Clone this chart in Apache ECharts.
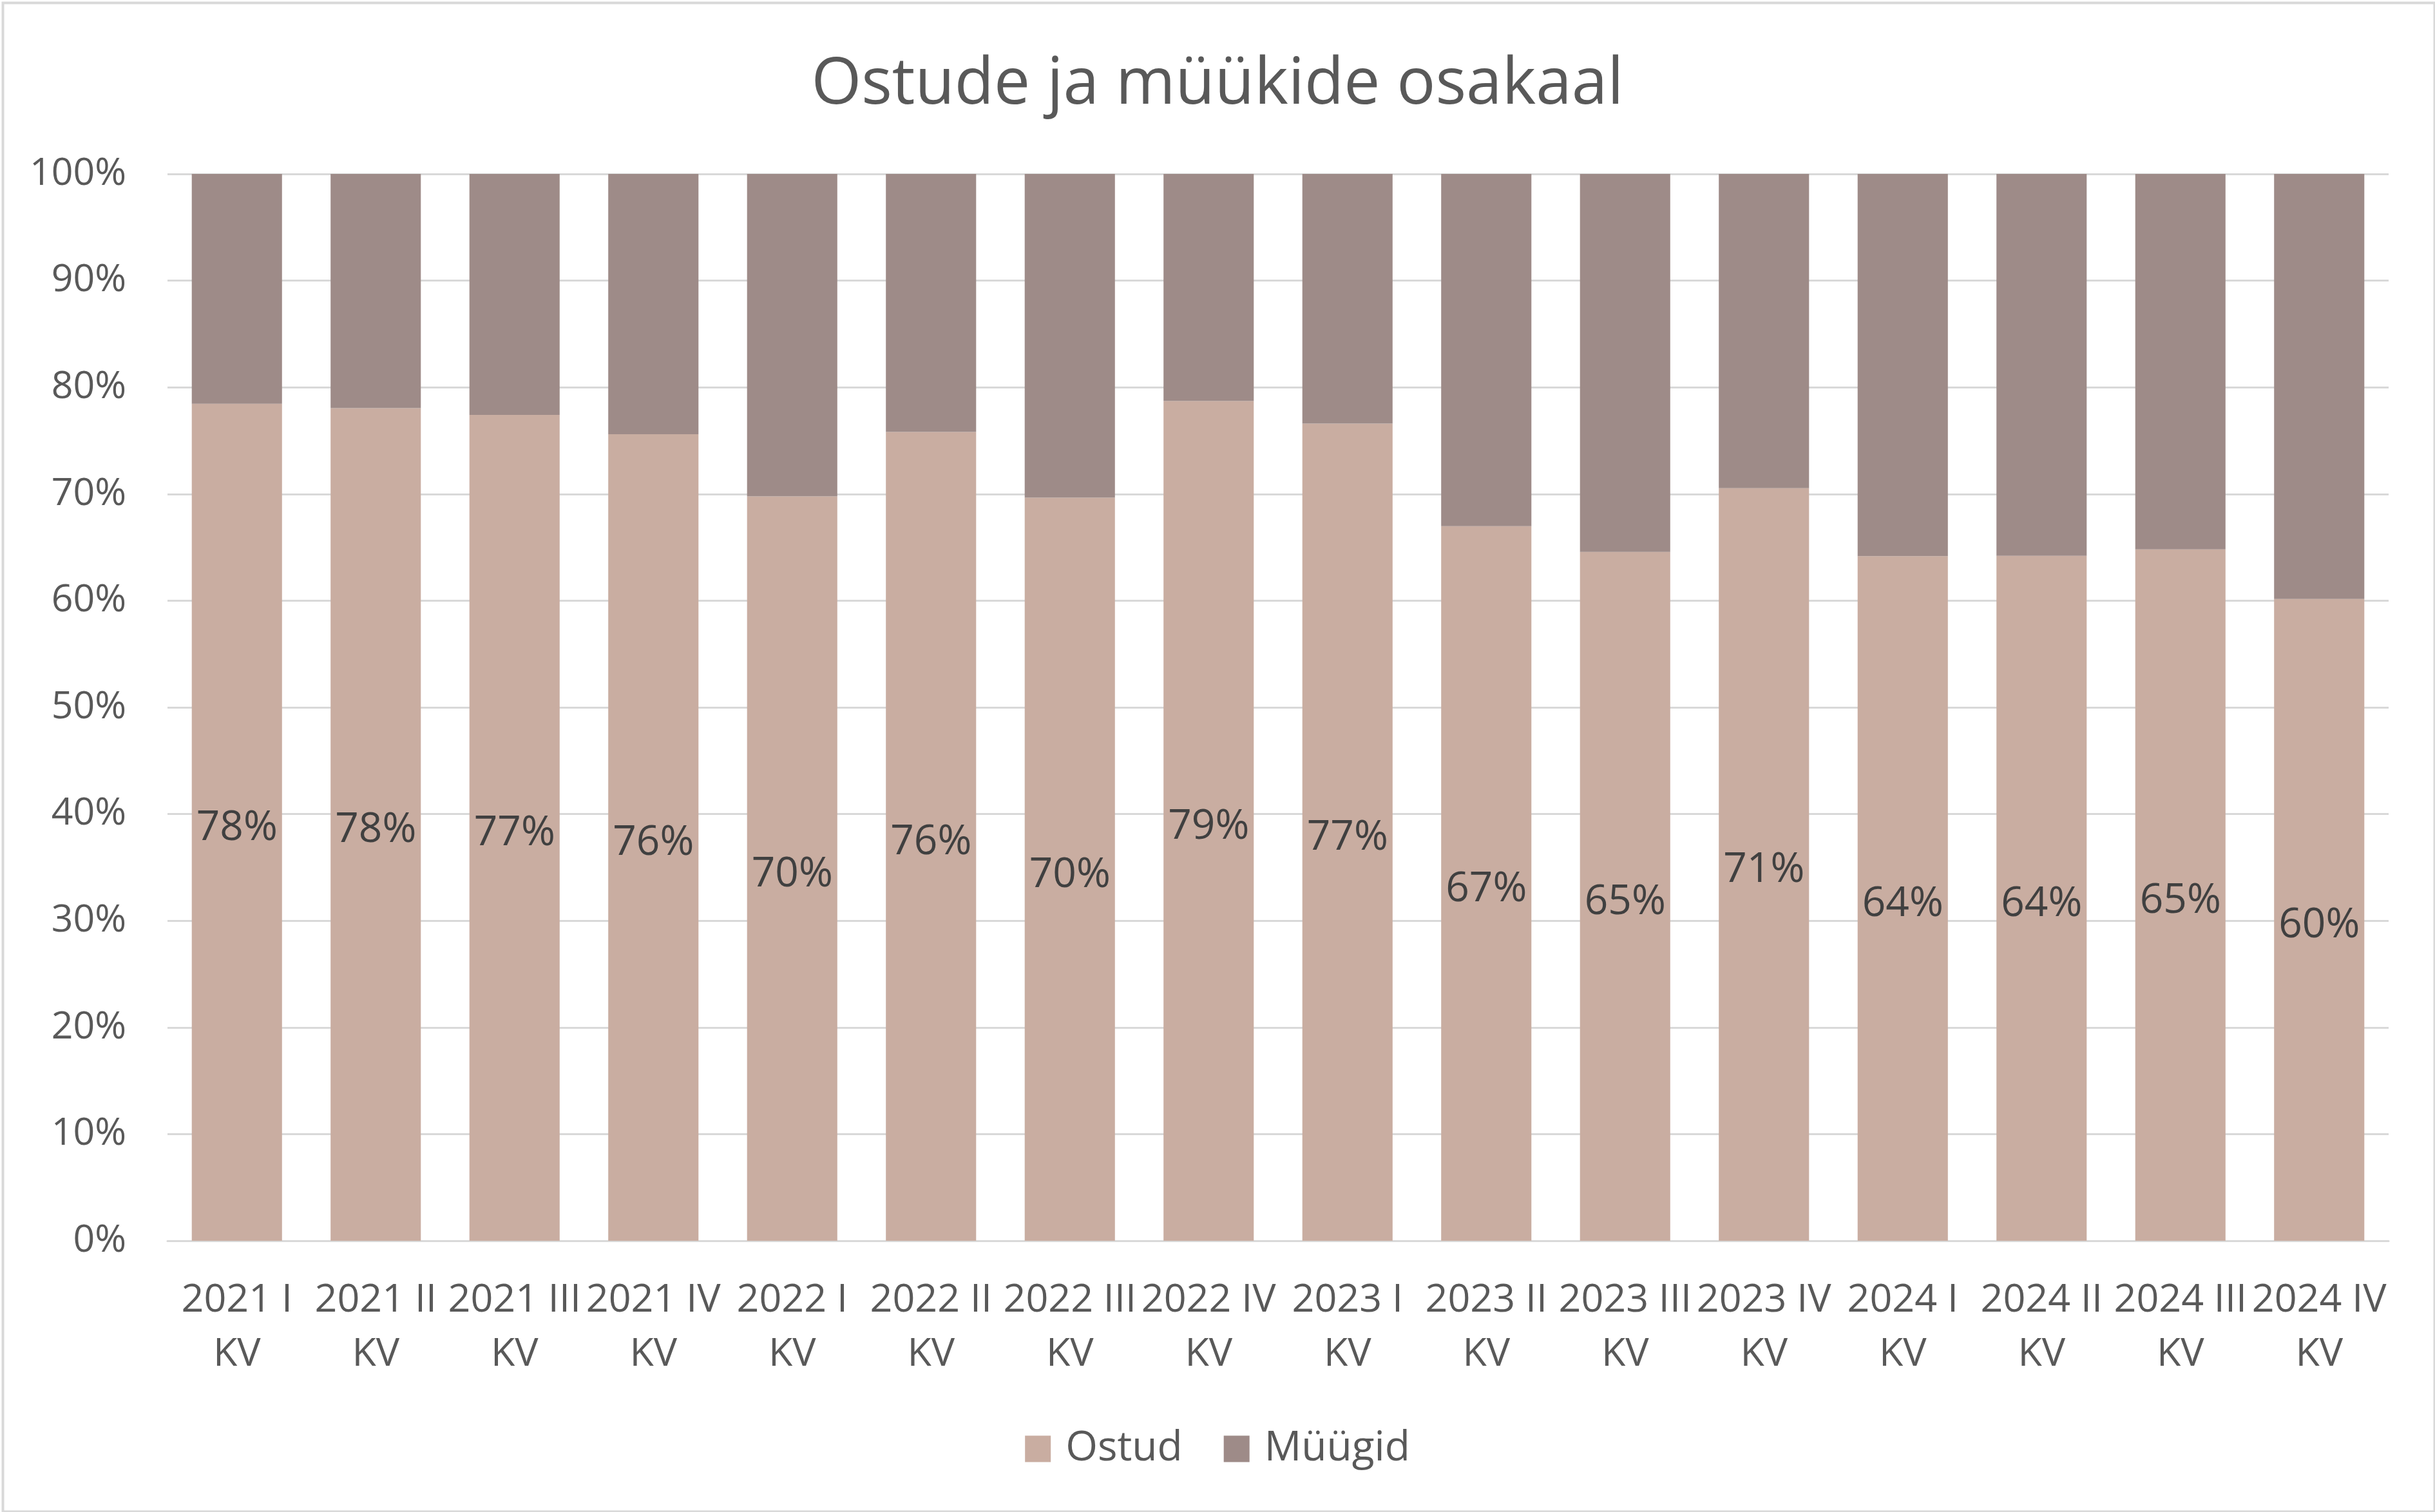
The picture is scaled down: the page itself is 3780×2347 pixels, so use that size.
<!DOCTYPE html>
<html>
<head>
<meta charset="utf-8">
<script src="https://cdn.jsdelivr.net/npm/echarts@6/dist/echarts.min.js"></script>
<style>
html,body{margin:0;padding:0;background:#fff;}
#chart{width:3780px;height:2347px;}
</style>
</head>
<body>
<div id="chart"></div>
<script>
const categories = ["2021 I KV","2021 II KV","2021 III KV","2021 IV KV","2022 I KV","2022 II KV","2022 III KV","2022 IV KV","2023 I KV","2023 II KV","2023 III KV","2023 IV KV","2024 I KV","2024 II KV","2024 III KV","2024 IV KV"];
const ostud = [78.45,78.05,77.42,75.61,69.77,75.81,69.65,78.71,76.60,66.99,64.57,70.55,64.17,64.21,64.81,60.16];
const myygid = [21.55,21.95,22.58,24.39,30.23,24.19,30.35,21.29,23.40,33.01,35.43,29.45,35.83,35.79,35.19,39.84];
const yTicks = {min:0, max:100, interval:10};
const seriesNames = ["Ostud","Müügid"];

const FONT = '"Open Sans", "Noto Sans", sans-serif';
const chart = echarts.init(document.getElementById('chart'), null, {renderer:'canvas'});
chart.setOption({
  backgroundColor:'#ffffff',
  animation:false,
  graphic:[{
    type:'rect', left:2, top:2, z:-1,
    shape:{width:3775, height:2342},
    style:{fill:'none', stroke:'#D9D9D9', lineWidth:4}
  }],
  title:{
    text:'Ostude ja müükide osakaal',
    left:'center', top:78,
    textStyle:{fontFamily:FONT, fontSize:100, fontWeight:'normal', color:'#595959'}
  },
  legend:{
    data:seriesNames,
    left:'center', top:2212,
    itemWidth:40, itemHeight:41, itemGap:64,
    icon:'rect',
    textStyle:{fontFamily:FONT, fontSize:64, color:'#595959', padding:[0,0,0,18]}
  },
  grid:{left:260, right:72, top:270, bottom:421, containLabel:false},
  xAxis:{
    type:'category',
    data:categories,
    axisLine:{show:true, lineStyle:{color:'#D9D9D9', width:3}},
    axisTick:{show:false},
    axisLabel:{
      interval:0, margin:51,
      fontFamily:FONT, fontSize:61, lineHeight:84, color:'#595959',
      formatter:function(v){ return v.replace(' KV','\nKV'); }
    }
  },
  yAxis:{
    type:'value',
    min:yTicks.min, max:yTicks.max, interval:yTicks.interval,
    axisLine:{show:false}, axisTick:{show:false},
    splitLine:{show:true, lineStyle:{color:'#D9D9D9', width:3}},
    axisLabel:{
      margin:64, fontFamily:FONT, fontSize:59, color:'#595959',
      formatter:'{value}%'
    }
  },
  series:[
    {
      name:seriesNames[0], type:'bar', stack:'total',
      data:ostud, barCategoryGap:'35%',
      itemStyle:{color:'#C9ADA1'},
      label:{
        show:true, position:'inside', offset:[0,9],
        fontFamily:FONT, fontSize:64, color:'#404040',
        formatter:function(p){ return Math.round(p.value)+'%'; }
      }
    },
    {
      name:seriesNames[1], type:'bar', stack:'total',
      data:myygid, barCategoryGap:'35%',
      itemStyle:{color:'#9E8B88'}
    }
  ]
});
</script>
</body>
</html>
